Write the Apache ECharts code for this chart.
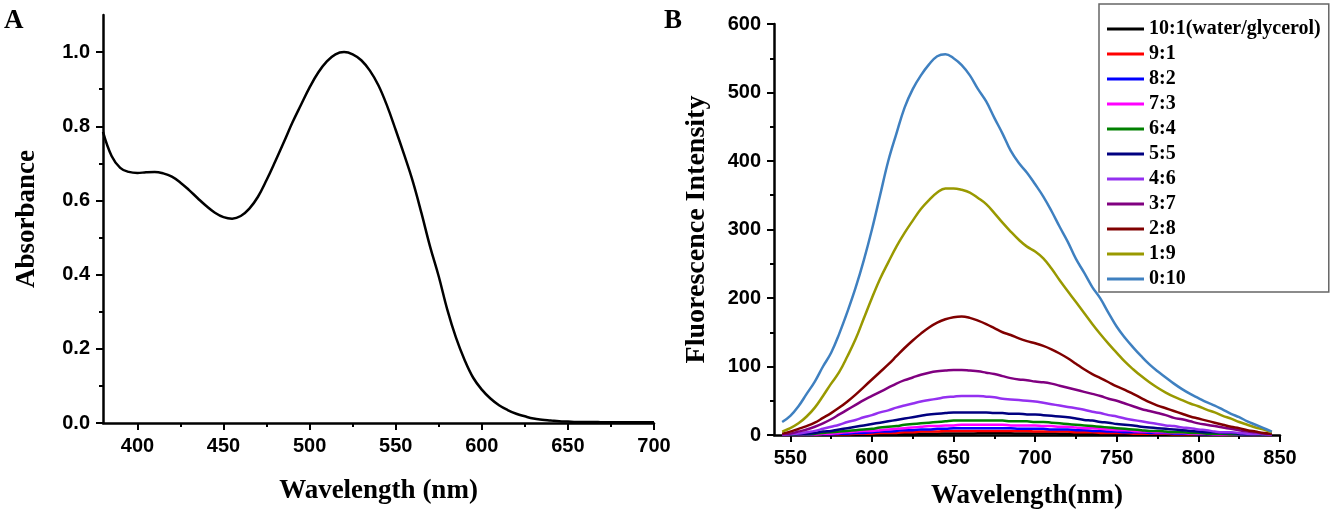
<!DOCTYPE html>
<html>

<head>
    <meta charset="utf-8">
    <title>Absorbance and fluorescence</title>
    <script src="https://cdn.jsdelivr.net/npm/echarts@6/dist/echarts.min.js"></script>
    <style>
        html, body { margin: 0; padding: 0; background: #fff; }
        #main { width: 1334px; height: 515px; }
    </style>
</head>

<body>
    <div id="main"></div>
    <script type="text/javascript">

        // Panel A: absorbance spectrum, 380-700 nm every 5 nm
        var absWavelength = [380, 385, 390, 395, 400, 405, 410, 415, 420, 425,
            430, 435, 440, 445, 450, 455, 460, 465, 470, 475,
            480, 485, 490, 495, 500, 505, 510, 515, 520, 525,
            530, 535, 540, 545, 550, 555, 560, 565, 570, 575,
            580, 585, 590, 595, 600, 605, 610, 615, 620, 625,
            630, 635, 640, 645, 650, 655, 660, 665, 670, 675,
            680, 685, 690, 695, 700];
        var absorbance = [0.785, 0.72, 0.688, 0.677, 0.674, 0.676, 0.677, 0.673, 0.664, 0.648,
            0.628, 0.606, 0.585, 0.567, 0.555, 0.551, 0.558, 0.578, 0.610, 0.655,
            0.705, 0.757, 0.810, 0.858, 0.905, 0.945, 0.975, 0.994, 1.000, 0.994,
            0.978, 0.950, 0.910, 0.855, 0.790, 0.722, 0.650, 0.565, 0.475, 0.395,
            0.305, 0.230, 0.170, 0.122, 0.090, 0.066, 0.048, 0.035, 0.025, 0.018,
            0.012, 0.009, 0.007, 0.005, 0.004, 0.003, 0.003, 0.003, 0.002, 0.002,
            0.002, 0.002, 0.002, 0.002, 0.002];
        var absXTicks = [400, 450, 500, 550, 600, 650, 700];
        var absXMinor = [425, 475, 525, 575, 625, 675];
        var absYTicks = [0, 0.2, 0.4, 0.6, 0.8, 1.0];
        var absYMinor = [0.1, 0.3, 0.5, 0.7, 0.9];

        // Panel B: fluorescence spectra, 545-845 nm every 5 nm
        var flWavelength = [545, 550, 555, 560, 565, 570, 575, 580, 585, 590,
            595, 600, 605, 610, 615, 620, 625, 630, 635, 640,
            645, 650, 655, 660, 665, 670, 675, 680, 685, 690,
            695, 700, 705, 710, 715, 720, 725, 730, 735, 740,
            745, 750, 755, 760, 765, 770, 775, 780, 785, 790,
            795, 800, 805, 810, 815, 820, 825, 830, 835, 840,
            845];
        var ratioNames = ['10:1(water/glycerol)', '9:1', '8:2', '7:3', '6:4', '5:5',
            '4:6', '3:7', '2:8', '1:9', '0:10'];
        var ratioColors = ['#000000', '#ff0000', '#0000ff', '#ff00ff', '#008000', '#000080',
            '#9430f0', '#800080', '#800000', '#999900', '#3f80c0'];

        var fl_10_1 = [0, 0, 0, 0, 0, 0, 0, 0.3, 0.4, 0.5,
            0.7, 0.8, 1.0, 1.1, 1.3, 1.5, 1.6, 1.8, 1.9, 2.0,
            2.1, 2.2, 2.3, 2.3, 2.4, 2.4, 2.4, 2.4, 2.4, 2.3,
            2.3, 2.2, 2.2, 2.1, 2.0, 1.9, 1.8, 1.7, 1.6, 1.4,
            1.3, 1.2, 1.1, 1.0, 0.9, 0.8, 0.7, 0.6, 0.5, 0.5,
            0.4, 0.3, 0.3, 0.2, 0.2, 0.1, 0.1, 0.1, 0, 0,
            0];
        var fl_9_1 = [0, 0, 0, 0, 0, 1, 1, 1, 1, 2,
            2, 2, 3, 3, 3, 4, 4, 5, 5, 5,
            6, 6, 6, 6, 6, 6, 6, 6, 6, 6,
            6, 5, 5, 5, 5, 5, 4, 4, 4, 3,
            3, 3, 3, 2, 2, 2, 2, 2, 1, 1,
            1, 1, 1, 1, 0, 0, 0, 0, 0, 0,
            0];
        var fl_8_2 = [0, 0, 0, 0, 1, 1, 1, 2, 2, 3,
            3, 4, 5, 5, 6, 7, 7, 8, 8, 9,
            9, 10, 10, 10, 10, 10, 10, 10, 10, 9,
            9, 9, 9, 8, 8, 8, 7, 7, 6, 6,
            5, 5, 4, 4, 4, 3, 3, 3, 2, 2,
            2, 1, 1, 1, 1, 1, 0, 0, 0, 0,
            0];
        var fl_7_3 = [0, 0, 0, 1, 1, 2, 2, 3, 4, 5,
            6, 6, 7, 8, 9, 10, 11, 12, 13, 13,
            14, 14, 15, 15, 15, 15, 15, 15, 14, 14,
            14, 14, 13, 13, 12, 12, 11, 10, 10, 9,
            8, 7, 7, 6, 5, 5, 4, 4, 3, 3,
            2, 2, 2, 1, 1, 1, 1, 1, 0, 0,
            0];
        var fl_6_4 = [0, 0, 1, 1, 2, 3, 4, 5, 6, 7,
            8, 9, 11, 12, 13, 15, 16, 17, 18, 19,
            20, 21, 21, 21, 21, 21, 21, 21, 20, 20,
            20, 19, 19, 18, 17, 16, 15, 14, 13, 12,
            11, 10, 9, 8, 7, 6, 6, 5, 4, 4,
            3, 3, 2, 2, 2, 1, 1, 1, 1, 0,
            0];
        var fl_5_5 = [0, 1, 1, 2, 3, 5, 6, 8, 10, 12,
            14, 16, 18, 20, 22, 24, 26, 28, 30, 31,
            32, 33, 33, 33, 33, 33, 32, 32, 31, 31,
            30, 30, 29, 28, 27, 26, 24, 22, 21, 19,
            18, 16, 15, 14, 12, 11, 10, 9, 8, 7,
            6, 5, 4, 4, 3, 3, 2, 1, 1, 1,
            0];
        var fl_4_6 = [0, 1, 2, 4, 6, 9, 12, 15, 19, 22,
            26, 29, 33, 36, 40, 43, 46, 49, 51, 53,
            55, 56, 57, 57, 57, 56, 55, 53, 52, 51,
            50, 49, 47, 45, 43, 41, 39, 37, 34, 32,
            29, 27, 24, 22, 20, 18, 16, 14, 13, 11,
            10, 8, 7, 5, 4, 4, 3, 2, 2, 1,
            0];
        var fl_3_7 = [1, 2, 5, 8, 12, 17, 23, 30, 37, 44,
            51, 57, 63, 69, 75, 80, 84, 88, 91, 93,
            94, 95, 95, 94, 93, 91, 89, 86, 83, 81,
            80, 78, 77, 75, 72, 69, 66, 63, 60, 57,
            53, 50, 46, 42, 38, 35, 32, 29, 25, 23,
            20, 17, 15, 13, 11, 9, 7, 5, 4, 2,
            1];
        var fl_2_8 = [2, 5, 9, 13, 18, 25, 32, 40, 49, 59,
            70, 81, 92, 103, 115, 127, 138, 148, 157, 164,
            169, 172, 173, 171, 167, 162, 156, 150, 146, 141,
            137, 134, 130, 125, 119, 112, 104, 96, 89, 83,
            77, 71, 66, 60, 54, 48, 43, 39, 35, 31,
            27, 24, 21, 18, 15, 12, 10, 7, 5, 3,
            2];
        var fl_1_9 = [5, 10, 17, 27, 40, 57, 75, 92, 115, 140,
            170, 200, 228, 252, 275, 295, 313, 330, 343, 354,
            360, 360, 358, 354, 346, 337, 324, 310, 297, 285,
            275, 268, 258, 243, 226, 210, 194, 178, 162, 147,
            133, 120, 107, 96, 86, 77, 69, 62, 56, 51,
            46, 42, 37, 33, 28, 24, 19, 15, 11, 8,
            4];
        var fl_0_10 = [19, 28, 42, 60, 78, 100, 120, 148, 180, 215,
            255, 300, 350, 400, 440, 478, 505, 525, 541, 553,
            556, 550, 540, 525, 505, 487, 463, 440, 415, 397,
            383, 366, 348, 327, 304, 282, 257, 237, 216, 199,
            178, 158, 142, 128, 115, 103, 93, 84, 75, 67,
            60, 54, 48, 43, 37, 31, 26, 20, 15, 10,
            5];
        var flSeries = [fl_10_1, fl_9_1, fl_8_2, fl_7_3, fl_6_4, fl_5_5,
            fl_4_6, fl_3_7, fl_2_8, fl_1_9, fl_0_10];
        var flXTicks = [550, 600, 650, 700, 750, 800, 850];
        var flXMinor = [575, 625, 675, 725, 775, 825];

        var tickFont = { color: '#000', fontFamily: 'Liberation Sans, Arial', fontWeight: 'bold', fontSize: 20 };
        var nameFont = { color: '#000', fontFamily: 'Liberation Serif, Times New Roman', fontWeight: 'bold', fontSize: 27 };
        var axisLine = { show: true, lineStyle: { color: '#000', width: 2.5 } };

        function pairs(xs, ys) {
            return xs.map(function (x, i) { return [x, ys[i]]; });
        }

        function minorAxis(grid, lo, hi, ticks, pos) {
            return {
                type: 'value', gridIndex: grid, min: lo, max: hi, position: pos,
                axisLine: { show: false },
                axisLabel: { show: false },
                splitLine: { show: false },
                axisTick: { show: true, customValues: ticks, length: 4, lineStyle: { color: '#000', width: 2 } }
            };
        }

        var series = [{
            type: 'line',
            xAxisIndex: 0,
            yAxisIndex: 0,
            data: pairs(absWavelength, absorbance),
            showSymbol: false,
            smooth: 0.4,
            lineStyle: { color: '#000', width: 2.5 },
            itemStyle: { color: '#000' }
        }];
        for (var i = 0; i < flSeries.length; i++) {
            series.push({
                name: ratioNames[i],
                type: 'line',
                xAxisIndex: 2,
                yAxisIndex: 2,
                data: pairs(flWavelength, flSeries[i]),
                showSymbol: false,
                smooth: 0.4,
                lineStyle: { color: ratioColors[i], width: 2.5 },
                itemStyle: { color: ratioColors[i] }
            });
        }

        var option = {
            animation: false,
            backgroundColor: '#fff',
            title: [
                { text: 'A', left: 4, top: 8, padding: 0, textStyle: { color: '#000', fontFamily: 'Liberation Serif', fontWeight: 'bold', fontSize: 27 } },
                { text: 'B', left: 664, top: 8, padding: 0, textStyle: { color: '#000', fontFamily: 'Liberation Serif', fontWeight: 'bold', fontSize: 27 } }
            ],
            legend: {
                data: ratioNames,
                orient: 'vertical',
                left: 1099,
                top: 4,
                icon: 'rect',
                itemWidth: 37,
                itemHeight: 3,
                itemGap: 5,
                padding: [15, 8, 3, 8],
                borderColor: '#666',
                borderWidth: 1.5,
                textStyle: { color: '#000', fontFamily: 'Liberation Serif', fontWeight: 'bold', fontSize: 20, lineHeight: 20 }
            },
            grid: [
                { left: 103, top: 15, right: 680, bottom: 92 },
                { left: 774, top: 24, right: 54, bottom: 80 }
            ],
            xAxis: [
                {
                    type: 'value', gridIndex: 0, min: 380, max: 700, position: 'bottom',
                    name: 'Wavelength (nm)', nameLocation: 'middle', nameGap: 55, nameTextStyle: nameFont,
                    axisLine: axisLine,
                    axisTick: { show: true, customValues: absXTicks, length: 7, lineStyle: { color: '#000', width: 2 } },
                    axisLabel: { customValues: absXTicks, margin: 13, textStyle: tickFont },
                    splitLine: { show: false }
                },
                minorAxis(0, 380, 700, absXMinor, 'bottom'),
                {
                    type: 'value', gridIndex: 1, min: 540, max: 850, position: 'bottom',
                    name: 'Wavelength(nm)', nameLocation: 'middle', nameGap: 48, nameTextStyle: nameFont,
                    axisLine: axisLine,
                    axisTick: { show: true, customValues: flXTicks, length: 7, lineStyle: { color: '#000', width: 2 } },
                    axisLabel: { customValues: flXTicks, margin: 13, textStyle: tickFont },
                    splitLine: { show: false }
                },
                minorAxis(1, 540, 850, flXMinor, 'bottom')
            ],
            yAxis: [
                {
                    type: 'value', gridIndex: 0, min: 0, max: 1.1, position: 'left',
                    name: 'Absorbance', nameLocation: 'middle', nameGap: 62, nameTextStyle: nameFont,
                    axisLine: axisLine,
                    axisTick: { show: true, customValues: absYTicks, length: 7, lineStyle: { color: '#000', width: 2 } },
                    axisLabel: {
                        customValues: absYTicks, margin: 13, textStyle: tickFont,
                        formatter: function (v) { return v.toFixed(1); }
                    },
                    splitLine: { show: false }
                },
                minorAxis(0, 0, 1.1, absYMinor, 'left'),
                {
                    type: 'value', gridIndex: 1, min: 0, max: 600, interval: 100, position: 'left',
                    name: 'Fluorescence Intensity', nameLocation: 'middle', nameGap: 63,
                    nameTextStyle: { color: '#000', fontFamily: 'Liberation Serif, Times New Roman', fontWeight: 'bold', fontSize: 28 },
                    axisLine: axisLine,
                    axisTick: { show: true, length: 7, lineStyle: { color: '#000', width: 2 } },
                    minorTick: { show: true, splitNumber: 2, length: 4, lineStyle: { color: '#000', width: 2 } },
                    axisLabel: { margin: 13, textStyle: tickFont },
                    splitLine: { show: false },
                    minorSplitLine: { show: false }
                }
            ],
            series: series
        };

        var myChart = echarts.init(document.getElementById('main'));
        myChart.setOption(option);
    </script>
</body>

</html>
